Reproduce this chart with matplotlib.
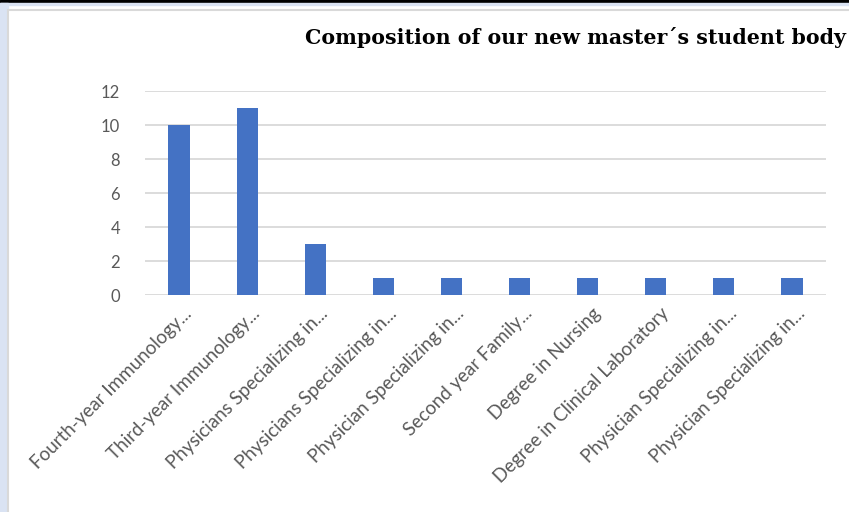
import matplotlib.pyplot as plt
from matplotlib.patches import Rectangle
from matplotlib.transforms import ScaledTranslation

categories = ["Fourth-year Immunology...", "Third-year Immunology...",
              "Physicians Specializing in...", "Physicians Specializing in...",
              "Physician Specializing in...", "Second year Family...",
              "Degree in Nursing", "Degree in Clinical Laboratory",
              "Physician Specializing in...", "Physician Specializing in..."]
values = [10, 11, 3, 1, 1, 1, 1, 1, 1, 1]
yticks = [0, 2, 4, 6, 8, 10, 12]

fig = plt.figure(figsize=(8.49, 5.12), dpi=100)

# screenshot framing
fig.patches.append(Rectangle((0, 1 - 3/512), 1, 3/512, transform=fig.transFigure,
                             color="black", zorder=-2))
fig.patches.append(Rectangle((0, 0), 8/849, 1 - 3/512, transform=fig.transFigure,
                             color="#dae3f3", zorder=-2))
fig.patches.append(Rectangle((0, 1 - 5/512), 1, 2/512, transform=fig.transFigure,
                             color="#dae3f3", zorder=-2))
fig.patches.append(Rectangle((8/849, -0.01), 1, 1 - 10/512 + 0.01, transform=fig.transFigure,
                             facecolor="white", edgecolor="#d9d9d9", lw=1.5, zorder=-1))

ax = fig.add_axes([145/849, 1 - 295/512, 681/849, 204/512])
ax.set_zorder(2)
x = range(len(categories))
ax.bar(x, values, width=0.31, color="#4472c4", zorder=3)
ax.set_xlim(-0.5, len(categories) - 0.5)
ax.set_ylim(0, 12)
ax.set_yticks(yticks)
ax.set_yticklabels([str(v) for v in yticks], family="Lato", fontsize=12)
ax.yaxis.grid(True, color="#d9d9d9", lw=1.3)
ax.set_axisbelow(True)
for s in ax.spines.values():
    s.set_visible(False)
ax.tick_params(axis="both", length=0, colors="#595959")
ax.tick_params(axis="y", pad=18)
ax.set_xticks(list(x))
ax.set_xticklabels(categories, rotation=45, ha="right", va="top",
                   rotation_mode="anchor", fontsize=13.5, color="#595959",
                   family="Lato")
ax.tick_params(axis="x", pad=7)
shift = ScaledTranslation(3/72, 0, fig.dpi_scale_trans)
for lbl in ax.get_xticklabels():
    lbl.set_transform(lbl.get_transform() + shift)
ax.set_facecolor("none")

fig.text(305/849, 1 - 37/512, "Composition of our new master\u00b4s student body",
         ha="left", va="center", fontsize=14.8, fontweight="bold",
         family="DejaVu Serif", color="black")

fig.savefig("out.png", dpi=100)
